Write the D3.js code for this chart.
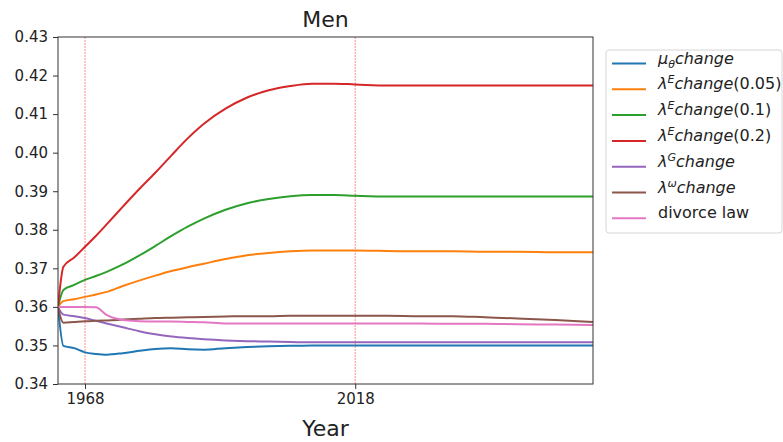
<!DOCTYPE html>
<html>
<head>
<meta charset="utf-8">
<script src="https://cdn.jsdelivr.net/npm/d3@7"></script>
<style>
body { margin: 0; background: #fff; }
text { font-family: "DejaVu Sans", sans-serif; fill: #222; }
.line { fill: none; stroke-width: 2; }
</style>
</head>
<body>
<svg id="chart" width="783" height="442"></svg>
<script>
// Men: simulated share by scenario

var years = [1963, 1964, 1966, 1968, 1970, 1972, 1975, 1978, 1981, 1984, 1987, 1990, 1994,
             1998, 2002, 2006, 2010, 2014, 2018, 2024, 2030, 2036, 2042, 2048, 2055, 2062];

var muTheta = [0.3600, 0.3499, 0.3493, 0.3482, 0.3478, 0.3476, 0.3480, 0.3486, 0.3491, 0.3493, 0.3490, 0.3489, 0.3493,
               0.3496, 0.3498, 0.3499, 0.3500, 0.3500, 0.3500, 0.3500, 0.3500, 0.3500, 0.3500, 0.3500, 0.3500, 0.3500];
var lambdaE005 = [0.3600, 0.3615, 0.3620, 0.3626, 0.3632, 0.3639, 0.3654, 0.3668, 0.3681, 0.3693, 0.3703, 0.3712, 0.3724,
                  0.3734, 0.3740, 0.3744, 0.3746, 0.3746, 0.3746, 0.3745, 0.3744, 0.3744, 0.3743, 0.3743, 0.3742, 0.3742];
var lambdaE01 = [0.3600, 0.3644, 0.3657, 0.3670, 0.3680, 0.3691, 0.3710, 0.3733, 0.3758, 0.3784, 0.3808, 0.3829, 0.3852,
                 0.3869, 0.3880, 0.3887, 0.3890, 0.3890, 0.3888, 0.3886, 0.3886, 0.3886, 0.3886, 0.3886, 0.3886, 0.3886];
var lambdaE02 = [0.3600, 0.3704, 0.3728, 0.3756, 0.3784, 0.3814, 0.3860, 0.3905, 0.3948, 0.3993, 0.4037, 0.4075, 0.4114,
                 0.4143, 0.4162, 0.4173, 0.4179, 0.4179, 0.4177, 0.4174, 0.4174, 0.4174, 0.4174, 0.4174, 0.4174, 0.4174];
var lambdaG = [0.3600, 0.3580, 0.3576, 0.3571, 0.3564, 0.3557, 0.3547, 0.3537, 0.3529, 0.3523, 0.3519, 0.3516, 0.3513,
               0.3511, 0.3510, 0.3509, 0.3508, 0.3508, 0.3508, 0.3508, 0.3508, 0.3508, 0.3508, 0.3508, 0.3508, 0.3508];
var lambdaW = [0.3600, 0.3559, 0.3561, 0.3563, 0.3564, 0.3565, 0.3567, 0.3569, 0.3571, 0.3572, 0.3573, 0.3574, 0.3575,
               0.3576, 0.3576, 0.3577, 0.3577, 0.3577, 0.3577, 0.3577, 0.3576, 0.3576, 0.3573, 0.3570, 0.3566, 0.3561];
var divorceLaw = [0.3600, 0.3600, 0.3600, 0.3600, 0.3599, 0.3579, 0.3566, 0.3563, 0.3562, 0.3562, 0.3561, 0.3560, 0.3557,
                  0.3557, 0.3557, 0.3557, 0.3557, 0.3557, 0.3557, 0.3557, 0.3557, 0.3556, 0.3556, 0.3555, 0.3554, 0.3553];

var seriesValues = [muTheta, lambdaE005, lambdaE01, lambdaE02, lambdaG, lambdaW, divorceLaw];

// label pieces: [text, kind] with kind "it", "sup", "sub" or ""
var seriesLabels = [
    [["μ", "it"], ["θ", "sub"], ["change", "it"]],
    [["λ", "it"], ["E", "sup"], ["change", "it"], ["(0.05)", ""]],
    [["λ", "it"], ["E", "sup"], ["change", "it"], ["(0.1)", ""]],
    [["λ", "it"], ["E", "sup"], ["change", "it"], ["(0.2)", ""]],
    [["λ", "it"], ["G", "sup"], ["change", "it"]],
    [["λ", "it"], ["ω", "sup"], ["change", "it"]],
    [["divorce law", ""]]
];

var markYears = [1968, 2018];
var xTicks = [1968, 2018];
var yTicks = [0.34, 0.35, 0.36, 0.37, 0.38, 0.39, 0.40, 0.41, 0.42, 0.43];

var colors = ['#1f77b4', '#ff7f0e', '#2ca02c', '#d62728', '#9467bd', '#8c564b', '#e377c2'];

var svg = d3.select("#chart"),
    margin = {top: 37, right: 190, bottom: 58, left: 58},
    width = +svg.attr("width") - margin.left - margin.right,
    height = +svg.attr("height") - margin.top - margin.bottom;

var x = d3.scaleLinear().domain([1963, 2062]).range([0, width]),
    y = d3.scaleLinear().domain([0.34, 0.43]).range([height, 0]);

var line = d3.line()
    .curve(d3.curveMonotoneX)
    .x(function(d) { return x(d.year); })
    .y(function(d) { return y(d.value); });

svg.append("defs")
    .append("clipPath")
    .attr("id", "clip")
    .append("rect")
    .attr("width", width)
    .attr("height", height);

var g = svg.append("g")
    .attr("transform", "translate(" + margin.left + "," + margin.top + ")");

// reference years
g.selectAll(".mark")
    .data(markYears)
    .enter()
    .append("line")
    .attr("class", "mark")
    .attr("x1", function(d) { return x(d); })
    .attr("x2", function(d) { return x(d); })
    .attr("y1", 0)
    .attr("y2", height)
    .style("stroke", "#ff4040")
    .style("stroke-opacity", 0.6)
    .style("stroke-width", 1)
    .style("stroke-dasharray", "2,1");

var series = seriesValues.map(function(vals, i) {
    return {
        id: i,
        values: vals.map(function(v, j) { return {year: years[j], value: v}; })
    };
});

g.append("g")
    .attr("clip-path", "url(#clip)")
    .selectAll(".line")
    .data(series)
    .enter()
    .append("path")
    .attr("class", "line")
    .attr("d", function(d) { return line(d.values); })
    .style("stroke", function(d) { return colors[d.id]; });

// axes
var xAxis = g.append("g")
    .attr("transform", "translate(0," + height + ")")
    .call(d3.axisBottom(x).tickValues(xTicks).tickFormat(d3.format("d")).tickSize(5).tickPadding(4));

var yAxis = g.append("g")
    .call(d3.axisLeft(y).tickValues(yTicks).tickFormat(d3.format(".2f")).tickSize(5).tickPadding(5));

[xAxis, yAxis].forEach(function(ax) {
    ax.select(".domain").remove();
    ax.selectAll("line").style("stroke", "#333");
    ax.selectAll("text").style("font-size", "15px").style("fill", "#222")
        .style("font-family", "'DejaVu Sans', sans-serif");
});

// frame
g.append("rect")
    .attr("width", width)
    .attr("height", height)
    .style("fill", "none")
    .style("stroke", "#333")
    .style("stroke-width", 1);

svg.append("text")
    .attr("x", margin.left + width / 2)
    .attr("y", 27)
    .attr("text-anchor", "middle")
    .style("font-size", "22px")
    .text("Men");

svg.append("text")
    .attr("x", margin.left + width / 2)
    .attr("y", 436)
    .attr("text-anchor", "middle")
    .style("font-size", "22px")
    .text("Year");

// legend
var legend = svg.append("g")
    .attr("transform", "translate(606,50)");

legend.append("rect")
    .attr("width", 176)
    .attr("height", 183)
    .attr("rx", 3)
    .style("fill", "#fff")
    .style("stroke", "#d6d6d6");

var rows = legend.selectAll(".row")
    .data(seriesLabels)
    .enter()
    .append("g")
    .attr("class", "row")
    .attr("transform", function(d, i) { return "translate(0," + (13.5 + i * 25.8) + ")"; });

rows.append("line")
    .attr("x1", 6)
    .attr("x2", 40)
    .style("stroke", function(d, i) { return colors[i]; })
    .style("stroke-width", 2);

rows.append("text")
    .attr("x", 52)
    .attr("dy", "0.35em")
    .style("font-size", "16px")
    .each(function(parts) {
        var t = d3.select(this), shift = 0;
        parts.forEach(function(p) {
            var target = p[1] == "sup" ? -6 : (p[1] == "sub" ? 4 : 0);
            var s = t.append("tspan")
                .attr("dy", target - shift)
                .text(p[0]);
            shift = target;
            if (p[1] == "it") s.style("font-style", "italic");
            if (p[1] == "sup" || p[1] == "sub") s.style("font-size", "11px").style("font-style", "italic");
        });
    });
</script>
</body>
</html>
